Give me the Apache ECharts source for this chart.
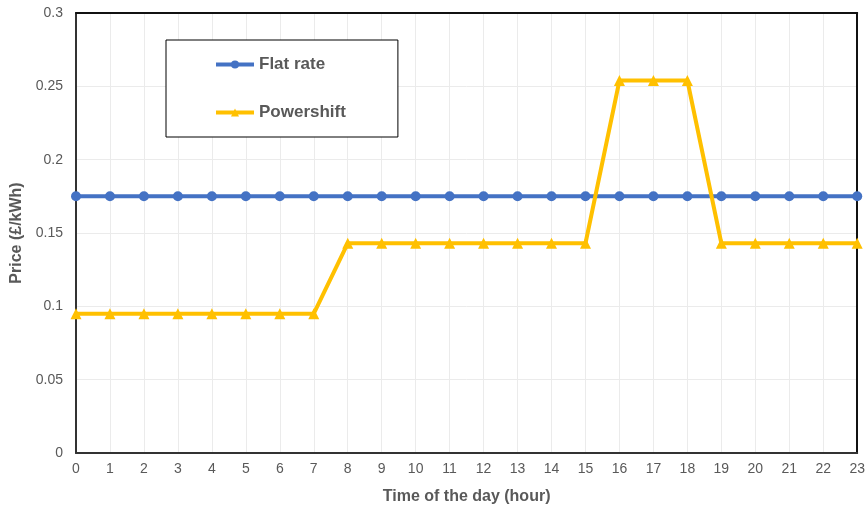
<html>
<head>
    <meta charset="utf-8">
    <script src="https://cdn.jsdelivr.net/npm/echarts@6/dist/echarts.min.js"></script>
</head>
<body style="margin:0">
<div id="main" style="width: 868px;height:510px;"></div>
</body>
<script type="text/javascript">
    // hours of the day
    var hours = ['0','1','2','3','4','5','6','7','8','9','10','11','12','13','14','15','16','17','18','19','20','21','22','23'];
    // price in £/kWh
    var flatRate = [0.175,0.175,0.175,0.175,0.175,0.175,0.175,0.175,0.175,0.175,0.175,0.175,
                    0.175,0.175,0.175,0.175,0.175,0.175,0.175,0.175,0.175,0.175,0.175,0.175];
    var powershift = [0.095,0.095,0.095,0.095,0.095,0.095,0.095,0.095,0.143,0.143,0.143,0.143,
                      0.143,0.143,0.143,0.143,0.254,0.254,0.254,0.143,0.143,0.143,0.143,0.143];

    var myChart = echarts.init(document.getElementById('main'));
    var grey = '#595959';
    var font = 'Liberation Sans, Arial, sans-serif';

    var option = {
        animation: false,
        grid: {left: 76, right: 9, top: 13, bottom: 56},
        legend: {
            orient: 'vertical',
            left: 166, top: 40,
            padding: [16, 52, 16, 48],
            itemGap: 31,
            itemWidth: 38,
            itemHeight: 10,
            borderColor: '#000',
            borderWidth: 1,
            backgroundColor: '#fff',
            lineStyle: {width: 4},
            textStyle: {color: grey, fontSize: 17, fontWeight: 'bold', fontFamily: font, lineHeight: 16},
            data: ['Flat rate', 'Powershift']
        },
        xAxis: [{
            type: 'category',
            data: hours,
            boundaryGap: false,
            name: 'Time of the day (hour)',
            nameLocation: 'middle',
            nameGap: 36,
            nameTextStyle: {color: grey, fontSize: 16, fontWeight: 'bold', fontFamily: font},
            axisLine: {lineStyle: {color: '#333', width: 2}},
            axisTick: {show: false},
            axisLabel: {color: grey, fontSize: 14, fontFamily: font, margin: 9, interval: 0},
            splitLine: {show: true, lineStyle: {color: '#ebebeb', width: 1}}
        }, {
            // top border of the frame
            type: 'category',
            data: hours,
            boundaryGap: false,
            position: 'top',
            axisLine: {onZero: false, lineStyle: {color: '#111', width: 2}},
            axisTick: {show: false},
            axisLabel: {show: false},
            splitLine: {show: false}
        }],
        yAxis: [{
            type: 'value',
            min: 0, max: 0.3, interval: 0.05,
            name: 'Price (£/kWh)',
            nameLocation: 'middle',
            nameGap: 43,
            nameTextStyle: {color: grey, fontSize: 16, fontWeight: 'bold', fontFamily: font},
            axisLine: {show: true, lineStyle: {color: '#333', width: 2}},
            axisTick: {show: false},
            axisLabel: {color: grey, fontSize: 14, fontFamily: font, margin: 13},
            splitLine: {lineStyle: {color: '#ebebeb', width: 1}}
        }, {
            // right border of the frame
            type: 'value',
            min: 0, max: 0.3, interval: 0.05,
            position: 'right',
            axisLine: {show: true, onZero: false, lineStyle: {color: '#111', width: 2}},
            axisTick: {show: false},
            axisLabel: {show: false},
            splitLine: {show: false}
        }],
        series: [{
            name: 'Flat rate',
            type: 'line',
            data: flatRate,
            symbol: 'circle',
            symbolSize: 10,
            color: '#4472C4',
            lineStyle: {width: 4, color: '#4472C4'},
            itemStyle: {color: '#4472C4'}
        }, {
            name: 'Powershift',
            type: 'line',
            data: powershift,
            symbol: 'triangle',
            symbolSize: 11,
            color: '#FFC000',
            lineStyle: {width: 4, color: '#FFC000'},
            itemStyle: {color: '#FFC000'}
        }]
    };

    myChart.setOption(option);
</script>
</html>
